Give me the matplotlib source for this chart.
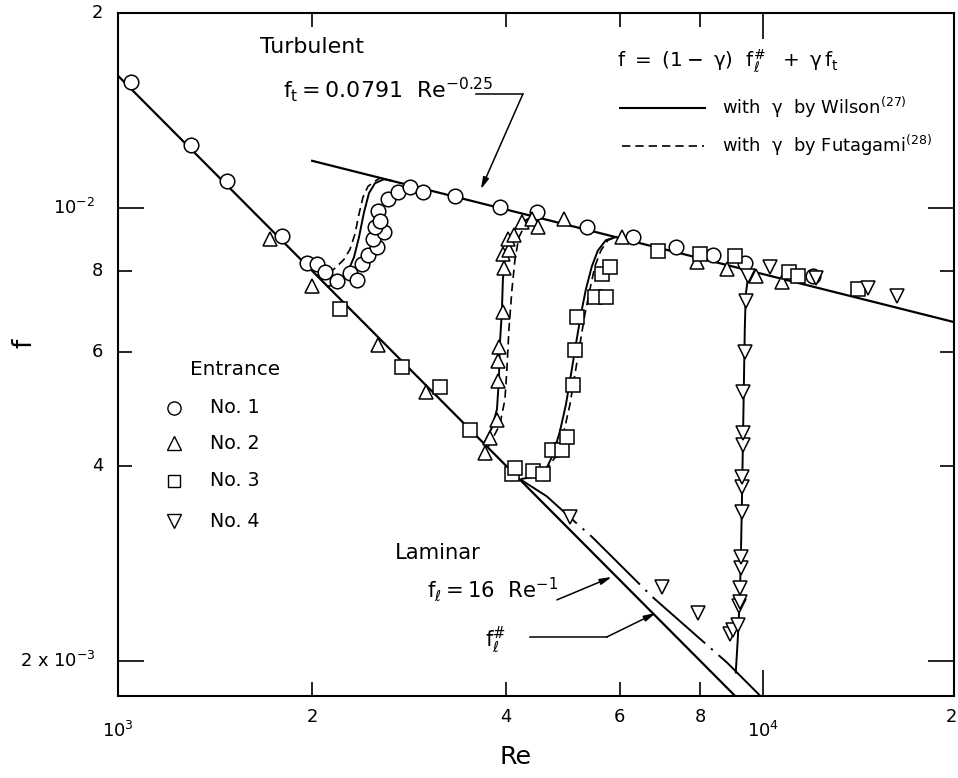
import numpy as np
import matplotlib
matplotlib.use('Agg')
import matplotlib.pyplot as plt
import matplotlib.transforms as mtransforms
from matplotlib import font_manager
from matplotlib.ticker import FixedLocator, NullFormatter

# ---- measured friction factors, one list per entrance ----
re_no1 = [1048, 1297, 1476, 1794, 1963, 2035, 2094, 2185, 2289, 2347, 2389, 2441, 2521, 2485, 2585,
          2503, 2530, 2548, 2622, 2718, 2836, 2971, 3331, 3910, 4467, 5334, 6285, 7330, 8359, 9378, 11950]
f_no1 = [1.565e-2, 1.25e-2, 1.10e-2, 9.04e-3, 8.24e-3, 8.21e-3, 7.96e-3, 7.71e-3, 7.93e-3, 7.74e-3, 8.21e-3,
         8.45e-3, 8.70e-3, 8.95e-3, 9.17e-3, 9.34e-3, 9.89e-3, 9.54e-3, 1.032e-2, 1.058e-2, 1.077e-2,
         1.058e-2, 1.045e-2, 1.003e-2, 9.85e-3, 9.34e-3, 9.02e-3, 8.70e-3, 8.45e-3, 8.24e-3, 7.85e-3]

re_no2 = [1721, 2000, 2530, 3002, 3707, 3770, 3870, 3890, 3890, 3900, 3950, 3965, 3950, 4040, 4030,
          4110, 4230, 4380, 4480, 4910, 6040, 7910, 8790, 9750, 10700]
f_no2 = [8.95e-3, 7.57e-3, 6.15e-3, 5.21e-3, 4.19e-3, 4.42e-3, 4.71e-3, 5.40e-3, 5.80e-3, 6.11e-3,
         6.90e-3, 8.07e-3, 8.48e-3, 8.63e-3, 8.95e-3, 9.10e-3, 9.51e-3, 9.61e-3, 9.34e-3, 9.61e-3,
         9.01e-3, 8.27e-3, 8.04e-3, 7.85e-3, 7.68e-3]

re_no3 = [2208, 2756, 3157, 3515, 4083, 4127, 4400, 4560, 4710, 4881, 4966, 5075, 5110, 5150, 5490,
          5710, 5625, 5790, 6870, 7980, 9060, 11000, 11330, 14030]
f_no3 = [6.98e-3, 5.69e-3, 5.30e-3, 4.55e-3, 3.88e-3, 3.97e-3, 3.93e-3, 3.88e-3, 4.24e-3, 4.24e-3,
         4.44e-3, 5.34e-3, 6.03e-3, 6.78e-3, 7.28e-3, 7.30e-3, 7.90e-3, 8.10e-3, 8.57e-3, 8.50e-3,
         8.42e-3, 7.96e-3, 7.85e-3, 7.49e-3]

re_no4 = [5021, 6970, 7930, 8888, 8985, 9145, 9200, 9210, 9230, 9240, 9240, 9277, 9280, 9290, 9311,
          9311, 9330, 9377, 9420, 9478, 10250, 12100, 14550, 16140]
f_no4 = [3.34e-3, 2.60e-3, 2.37e-3, 2.20e-3, 2.23e-3, 2.27e-3, 2.43e-3, 2.47e-3, 2.59e-3, 2.78e-3,
         2.89e-3, 3.40e-3, 3.71e-3, 3.84e-3, 4.31e-3, 4.50e-3, 5.21e-3, 6.00e-3, 7.18e-3, 7.85e-3,
         8.10e-3, 7.80e-3, 7.52e-3, 7.32e-3]

# ---- transition curves f = (1-g) fl# + g ft ----
wil1_re = [2117, 2209, 2273, 2322, 2364, 2407, 2450, 2503, 2585, 2650]
wil1_f = [7.56e-3, 7.74e-3, 7.99e-3, 8.39e-3, 9.01e-3, 9.85e-3, 1.054e-2, 1.092e-2, 1.108e-2, 1.1025e-2]
fut1_re = [2030, 2102, 2178, 2240, 2289, 2330, 2364, 2398, 2441, 2503, 2550]
fut1_f = [7.88e-3, 7.87e-3, 8.10e-3, 8.33e-3, 8.63e-3, 9.11e-3, 9.78e-3, 1.039e-2, 1.080e-2, 1.100e-2, 1.113e-2]

wil2_re = [3693, 3800, 3870, 3897, 3910, 3938, 3953, 3981, 4053, 4171, 4323, 4447]
wil2_f = [4.33e-3, 4.58e-3, 4.89e-3, 5.44e-3, 6.16e-3, 6.90e-3, 7.76e-3, 8.45e-3, 9.01e-3, 9.40e-3, 9.62e-3, 9.69e-3]
fut2_re = [3746, 3910, 3981, 4010, 4039, 4083, 4127, 4184, 4292, 4447]
fut2_f = [4.27e-3, 4.63e-3, 5.06e-3, 5.64e-3, 6.50e-3, 7.49e-3, 8.33e-3, 9.01e-3, 9.47e-3, 9.69e-3]

wil3_re = [4230, 4432, 4592, 4726, 4845, 4950, 5040, 5130, 5222, 5316, 5431, 5549, 5709, 5917]
wil3_f = [3.82e-3, 3.85e-3, 3.92e-3, 4.16e-3, 4.52e-3, 4.97e-3, 5.53e-3, 6.16e-3, 6.85e-3, 7.49e-3,
          8.13e-3, 8.60e-3, 8.92e-3, 9.02e-3]
fut3_re = [4592, 4794, 4915, 5021, 5111, 5204, 5297, 5393, 5490, 5609, 5752, 5917]
fut3_f = [3.92e-3, 4.16e-3, 4.52e-3, 4.97e-3, 5.53e-3, 6.16e-3, 6.85e-3, 7.49e-3, 8.13e-3, 8.60e-3, 8.92e-3, 9.02e-3]

wil4_re = [9080, 9145, 9210, 9245, 9277, 9311, 9344, 9377, 9410, 9478, 9650]
wil4_f = [1.92e-3, 2.16e-3, 2.49e-3, 2.87e-3, 3.42e-3, 4.24e-3, 5.25e-3, 6.50e-3, 7.36e-3, 7.76e-3, 7.93e-3]

# laminar friction factor with entrance effect
flsharp_re = [4230, 4624, 5111, 5431, 6745, 8794, 9950]
flsharp_f = [3.80e-3, 3.59e-3, 3.28e-3, 3.11e-3, 2.51e-3, 1.99e-3, 1.76e-3]

# tick labels
xtick_vals = [1000, 2000, 4000, 6000, 8000, 10000, 20000]
xtick_txt = ['$10^3$', '2', '4', '6', '8', '$10^4$', '2']
ytick_vals = [2e-3, 4e-3, 6e-3, 8e-3, 1e-2, 2e-2]
ytick_txt = ['2 x $10^{-3}$', '4', '6', '8', '$10^{-2}$', '2']

# ---- fonts ----
names = {f.name for f in font_manager.fontManager.ttflist}
if 'Liberation Sans Narrow' in names:
    fam, k = 'Liberation Sans Narrow', 1.0
else:
    fam, k = 'DejaVu Sans', 0.76
plt.rcParams['font.family'] = fam
plt.rcParams['mathtext.fontset'] = 'custom'
plt.rcParams['mathtext.rm'] = fam
plt.rcParams['mathtext.it'] = fam
plt.rcParams['mathtext.default'] = 'regular'

fig = plt.figure(figsize=(9.58, 7.78), dpi=100)
ax = fig.add_axes([0.1232, 0.1054, 0.8727, 0.8779])
ax.set_xscale('log')
ax.set_yscale('log')
ax.set_xlim(1000, 19800)
ax.set_ylim(1.766e-3, 2.0e-2)

# laminar and turbulent correlations
re_lam = np.array([1000, 10000])
ax.plot(re_lam, 16 / re_lam, color='k', lw=1.6)
re_turb = np.array([2000, 20000])
ax.plot(re_turb, 0.0791 * re_turb ** -0.25, color='k', lw=1.6)
ax.plot(flsharp_re, flsharp_f, color='k', lw=1.4, dashes=(36, 4, 1.2, 4))

for r, f in [(wil1_re, wil1_f), (wil2_re, wil2_f), (wil3_re, wil3_f), (wil4_re, wil4_f)]:
    ax.plot(r, f, color='k', lw=1.4)
for r, f in [(fut1_re, fut1_f), (fut2_re, fut2_f), (fut3_re, fut3_f)]:
    ax.plot(r, f, color='k', lw=1.2, dashes=(5, 3))

mk = dict(ls='none', mfc='white', mec='k', mew=1.1, zorder=4)
ax.plot(re_no1, f_no1, marker='o', ms=10.5, **mk)
ax.plot(re_no2, f_no2, marker='^', ms=10.5, **mk)
ax.plot(re_no3, f_no3, marker='s', ms=9.5, **mk)
ax.plot(re_no4, f_no4, marker='v', ms=10.5, **mk)

# ---- axes, ticks ----
for s in ax.spines.values():
    s.set_linewidth(1.5)
ax.xaxis.set_major_locator(FixedLocator([10000]))
ax.xaxis.set_minor_locator(FixedLocator([2000, 4000, 6000, 8000]))
ax.yaxis.set_major_locator(FixedLocator([2e-3, 1e-2]))
ax.yaxis.set_minor_locator(FixedLocator([4e-3, 6e-3, 8e-3]))
for a in (ax.xaxis, ax.yaxis):
    a.set_major_formatter(NullFormatter())
    a.set_minor_formatter(NullFormatter())
ax.tick_params(which='major', direction='in', length=19, width=1.2, top=True, right=True)
ax.tick_params(which='minor', direction='in', length=10, width=1.2, top=True, right=True)

xlab = mtransforms.blended_transform_factory(ax.transData, ax.transAxes)
ylab = mtransforms.blended_transform_factory(ax.transAxes, ax.transData)
for i, (v, s) in enumerate(zip(xtick_vals, xtick_txt)):
    y = -0.051 if s.startswith('$10') else -0.031
    ha = 'right' if i == len(xtick_vals) - 1 else 'center'
    ax.text(v, y, s, transform=xlab, ha=ha, va='center', fontsize=17 * k)
for v, s in zip(ytick_vals, ytick_txt):
    x = -0.027 if '10' in s else -0.018
    ax.text(x, v, s, transform=ylab, ha='right', va='center', fontsize=17 * k)

ax.set_xlabel('Re', fontsize=24 * k)
ax.xaxis.set_label_coords(0.475, -0.072)
ax.set_ylabel('f', fontsize=25 * k)
ax.yaxis.set_label_coords(-0.096, 0.517)

# ---- annotations ----
arr = dict(arrowstyle='-|>,head_length=0.7,head_width=0.18', color='k', lw=1.1,
           shrinkA=0, shrinkB=0)
ax.text(1661, 1.772e-2, 'Turbulent', ha='left', va='center', fontsize=21 * k)
ax.text(1802, 1.526e-2, r'$f_t = 0.0791\ \ Re^{-0.25}$', ha='left', va='center', fontsize=21 * k)
ax.plot([3589, 4245], [1.499e-2, 1.499e-2], color='k', lw=1.1)
ax.annotate('', xy=(3654, 1.069e-2), xytext=(4245, 1.499e-2), arrowprops=arr)

ax.text(2688, 2.938e-3, 'Laminar', ha='left', va='center', fontsize=20 * k)
ax.text(3013, 2.575e-3, r'$f_{\ell} = 16\ \ Re^{-1}$', ha='left', va='center', fontsize=20 * k)
ax.annotate('', xy=(5832, 2.696e-3), xytext=(4794, 2.485e-3), arrowprops=arr)
ax.text(3707, 2.155e-3, r'$f_{\ell}^{\#}$', ha='left', va='center', fontsize=20 * k)
ax.plot([4354, 5729], [2.178e-3, 2.178e-3], color='k', lw=1.1)
ax.annotate('', xy=(6826, 2.372e-3), xytext=(5729, 2.178e-3), arrowprops=arr)

# model legend (top right)
ax.text(0.597, 0.930, r'$f\ =\ (1-\ \gamma)\ \ f_{\ell}^{\#}\ \ +\ \gamma\,f_t$',
        transform=ax.transAxes, ha='left', va='center', fontsize=19 * k)
ax.plot([0.6005, 0.7022], [0.8609, 0.8609], transform=ax.transAxes, color='k', lw=1.5)
ax.text(0.7225, 0.862, r'with  $\gamma$  by Wilson$^{(27)}$', transform=ax.transAxes,
        ha='left', va='center', fontsize=17 * k)
ax.plot([0.6029, 0.7010], [0.8053, 0.8053], transform=ax.transAxes, color='k', lw=1.2, dashes=(5, 3))
ax.text(0.7225, 0.806, r'with  $\gamma$  by Futagami$^{(28)}$', transform=ax.transAxes,
        ha='left', va='center', fontsize=17 * k)

# entrance legend
ax.text(0.0861, 0.4773, 'Entrance', transform=ax.transAxes, ha='left', va='center', fontsize=19 * k)
leg_y = [0.4217, 0.3704, 0.3148, 0.2562]
leg_m = ['o', '^', 's', 'v']
for i, (yy, m) in enumerate(zip(leg_y, leg_m)):
    ax.plot([0.067], [yy], transform=ax.transAxes, marker=m, ms=9.5 if m != 's' else 8.5,
            ls='none', mfc='white', mec='k', mew=1.0, clip_on=False)
    ax.text(0.110, yy, f'No. {i + 1}', transform=ax.transAxes, ha='left', va='center', fontsize=18 * k)

plt.savefig('out.png', dpi=100)
